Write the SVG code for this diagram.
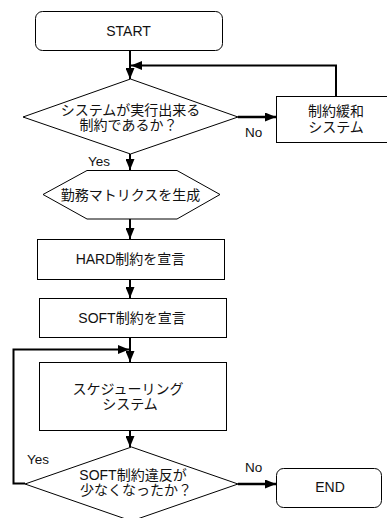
<svg xmlns="http://www.w3.org/2000/svg" width="387" height="518" viewBox="0 0 387 518">
<style>
.s{fill:#fff;stroke:#000;stroke-width:1}
.t{font-family:"Liberation Sans","Noto Sans CJK JP",sans-serif;font-size:14px;fill:#111;text-anchor:middle}
.l{font-family:"Liberation Sans","Noto Sans CJK JP",sans-serif;font-size:13.5px;fill:#111}
.c{fill:none;stroke:#000;stroke-width:2}
.cb{fill:none;stroke:#000;stroke-width:2.5}
</style>
<defs>
<marker id="ah" markerUnits="userSpaceOnUse" markerWidth="11" markerHeight="9" refX="11" refY="4.5" orient="auto">
<path d="M0,0 L11,4.5 L0,9 z" fill="#000"/>
</marker>
</defs>
<rect width="387" height="518" fill="#fff"/>
<g id="start"><rect class="s" x="35.5" y="11.5" width="187" height="39" rx="7"/><text class="t" x="128.5" y="36">START</text></g>
<g id="check"><polygon class="s" points="23,117 130.5,79 238,117 130.5,154"/><text class="t" x="130.5" y="115">システムが実行出来る</text><text class="t" x="128.5" y="130">制約であるか？</text></g>
<g id="relax"><rect class="s" x="276.5" y="96.5" width="120" height="46"/><text class="t" x="336" y="116">制約緩和</text><text class="t" x="336" y="132">システム</text></g>
<g id="matrix"><polygon class="s" points="43,194.5 87,170.5 177,170.5 220,194.5 177,219 87,219"/><text class="t" x="130.5" y="200">勤務マトリクスを生成</text></g>
<g id="hard"><rect class="s" x="37.5" y="239.5" width="187" height="40"/><text class="t" x="130.5" y="264">HARD制約を宣言</text></g>
<g id="soft"><rect class="s" x="39.5" y="298.5" width="187" height="39"/><text class="t" x="132" y="323">SOFT制約を宣言</text></g>
<g id="sched"><rect class="s" x="39.5" y="362.5" width="187" height="68"/><text class="t" x="128" y="394">スケジューリング</text><text class="t" x="130" y="409">システム</text></g>
<g id="check2"><polygon class="s" points="25,484 131.5,447 238,484 131.5,521"/><text class="t" x="133" y="480">SOFT制約違反が</text><text class="t" x="136" y="495">少なくなったか？</text></g>
<g id="end"><rect class="s" x="276.5" y="468.5" width="105" height="39" rx="7"/><text class="t" x="330" y="492">END</text></g>
<g id="connectors">
<path class="c" d="M130,51 V79" marker-end="url(#ah)"/>
<path class="c" d="M336,96 V65.5 H131" marker-end="url(#ah)"/>
<path class="cb" d="M238,117 H276" marker-end="url(#ah)"/>
<path class="c" d="M130,154 V170" marker-end="url(#ah)"/>
<path class="c" d="M130,219 V239" marker-end="url(#ah)"/>
<path class="c" d="M130,279 V298" marker-end="url(#ah)"/>
<path class="c" d="M130,337 V362" marker-end="url(#ah)"/>
<path class="c" d="M25,483.5 H13.5 V349.5 H129" marker-end="url(#ah)"/>
<path class="c" d="M130,430 V447" marker-end="url(#ah)"/>
<path class="cb" d="M238,484 H276" marker-end="url(#ah)"/>
<text class="l" x="245" y="137">No</text>
<text class="l" x="88" y="166">Yes</text>
<text class="l" x="27" y="464">Yes</text>
<text class="l" x="245" y="472">No</text>
</g>
</svg>
